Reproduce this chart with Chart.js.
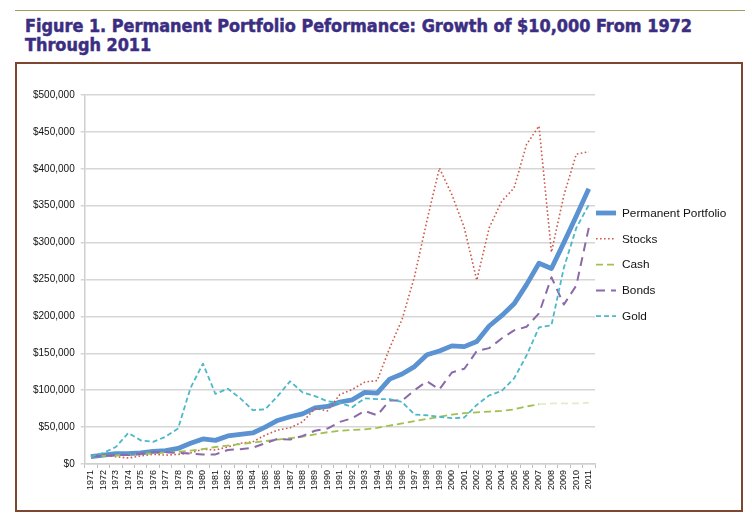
<!DOCTYPE html>
<html>
<head>
<meta charset="utf-8">
<script src="https://cdn.jsdelivr.net/npm/chart.js@4.4.0/dist/chart.umd.min.js"></script>
<style>
  body { margin: 0; background: #fff; width: 752px; height: 521px; position: relative; overflow: hidden; }
  #rule { position: absolute; left: 15px; top: 10px; width: 730px; height: 0; border-top: 1.5px solid #9c9c62; }
  #title { position: absolute; left: 25px; top: 16px; margin: 0; white-space: nowrap;
    font-family: "Liberation Sans Narrow", "DejaVu Sans Condensed", sans-serif;
    font-weight: bold; font-size: 18.5px; line-height: 19px; color: #3b2e82;
    -webkit-text-stroke: 0.5px #3b2e82; transform-origin: 0 0; }
  #title span { display: block; }
  #frame { position: absolute; left: 15px; top: 62px; width: 724px; height: 446px; border: 2px solid #7d4632; }
  #wrap { position: absolute; left: 14px; top: 63px; width: 728px; height: 447px; }
</style>
</head>
<body>
<div id="rule"></div>
<h1 id="title"><span id="t1">Figure 1. Permanent Portfolio Peformance: Growth of $10,000 From 1972</span><span>Through 2011</span></h1>
<div id="frame"></div>
<div id="wrap"><canvas id="ppChart"></canvas></div>
<script>
// squeeze the title to the width of the printed heading
const t1 = document.getElementById('t1');
document.getElementById('title').style.transform = 'scaleX(' + (667 / t1.offsetWidth) + ')';

const years = [];
for (let y = 1971; y <= 2011; y++) years.push(String(y));

const permanent = [10, 12, 14, 14, 15, 17, 18, 21, 28, 34, 32, 38, 40, 42, 50, 59, 64, 68, 76, 78,
    84, 87, 97, 96, 115, 122, 132, 148, 153, 160, 159, 166, 187, 201, 217, 243, 272, 265, 300, 336, 373];
const stocks = [10, 12, 10, 8, 11, 13, 12, 13, 15, 20, 19, 23, 28, 30, 39, 46, 49, 57, 75, 72,
    94, 101, 111, 113, 157, 196, 254, 330, 401, 365, 320, 249, 320, 356, 374, 433, 458, 287, 364, 420, 423];
const cash = [10, 11, 11.5, 12.5, 13.5, 14.5, 15.5, 16.5, 18, 20, 23, 25, 27, 29, 31, 33, 35, 37, 40, 43,
    45, 46, 47, 49, 52, 55, 58, 61, 64, 67, 69, 70, 71, 72, 74, 78, 81, 82, 82, 82, 83];
const bonds = [10, 11, 12, 12, 14, 16, 16, 15, 14, 13, 13, 19, 20, 22, 28, 34, 33, 38, 45, 48,
    57, 62, 72, 66, 86, 86, 100, 112, 101, 124, 129, 153, 157, 170, 181, 186, 204, 253, 216, 242, 320];
const gold = [10, 15, 23, 42, 32, 30, 37, 48, 103, 136, 95, 102, 89, 73, 74, 92, 112, 97, 92, 85,
    83, 77, 89, 88, 88, 84, 67, 66, 64, 62, 63, 80, 93, 99, 116, 147, 185, 188, 266, 320, 351];

const k = arr => arr.map(v => v * 1000);

// legend drawn beside the plot, one short line sample per series
const sideLegend = {
    id: 'sideLegend',
    afterDraw(chart) {
        const c = chart.ctx;
        const area = chart.chartArea;
        const x0 = area.right + 1;
        const y0 = area.top + 118;
        c.save();
        c.font = '11.8px "Liberation Sans", Arial, sans-serif';
        c.textBaseline = 'middle';
        chart.data.datasets.forEach((ds, i) => {
            const y = y0 + i * 25.8;
            c.beginPath();
            c.setLineDash(ds.borderDash || []);
            c.lineWidth = ds.borderWidth;
            c.strokeStyle = ds.borderColor;
            c.moveTo(x0, y);
            c.lineTo(x0 + 20, y);
            c.stroke();
            c.setLineDash([]);
            c.fillStyle = '#111';
            c.fillText(ds.label, x0 + 26, y + 0.5);
        });
        c.restore();
    }
};

const ctx = document.getElementById('ppChart').getContext('2d');
const ppChart = new Chart(ctx, {
    type: 'line',
    data: {
        labels: years,
        datasets: [{
            label: 'Permanent Portfolio',
            data: k(permanent),
            borderColor: '#5b92d1',
            borderWidth: 4.8,
            order: 5
        }, {
            label: 'Stocks',
            data: k(stocks),
            borderColor: '#cd5a4c',
            borderWidth: 1.6,
            borderDash: [1.6, 2.4],
            order: 4
        }, {
            label: 'Cash',
            data: k(cash),
            borderColor: '#a2c050',
            borderWidth: 1.8,
            borderDash: [7, 4],
            segment: {
                borderColor: c => c.p0DataIndex >= 36 ? 'rgba(162,192,80,0.3)' : undefined
            },
            order: 3
        }, {
            label: 'Bonds',
            data: k(bonds),
            borderColor: '#8a6aa8',
            borderWidth: 2,
            borderDash: [9, 6],
            order: 2
        }, {
            label: 'Gold',
            data: k(gold),
            borderColor: '#4cb8c8',
            borderWidth: 1.8,
            borderDash: [5, 3],
            order: 1
        }]
    },
    plugins: [sideLegend],
    options: {
        responsive: true,
        maintainAspectRatio: false,
        animation: false,
        layout: {
            padding: { left: 13, top: 32, right: 147, bottom: 18 }
        },
        elements: {
            point: { radius: 0 },
            line: { tension: 0, borderCapStyle: 'butt', borderJoinStyle: 'round' }
        },
        plugins: {
            tooltip: { enabled: false },
            legend: { display: false }
        },
        scales: {
            x: {
                offset: true,
                grid: {
                    offset: true,
                    drawOnChartArea: false,
                    drawTicks: true,
                    tickLength: 4,
                    color: '#bdbdbd'
                },
                border: { color: '#cfcfcf', width: 1.5 },
                ticks: {
                    autoSkip: false,
                    minRotation: 90,
                    maxRotation: 90,
                    padding: 2,
                    color: '#111',
                    font: { family: '"Liberation Sans", Arial, sans-serif', size: 9 }
                }
            },
            y: {
                min: 0,
                max: 500000,
                ticks: {
                    stepSize: 50000,
                    padding: 6,
                    color: '#111',
                    font: { family: '"Liberation Sans", Arial, sans-serif', size: 10 },
                    callback: v => '$' + v.toLocaleString('en-US')
                },
                grid: {
                    color: '#d6d6d6',
                    lineWidth: 1.5,
                    drawTicks: true,
                    tickLength: 4
                },
                border: { color: '#cfcfcf', width: 1.5 }
            }
        }
    }
});
</script>
</body>
</html>
